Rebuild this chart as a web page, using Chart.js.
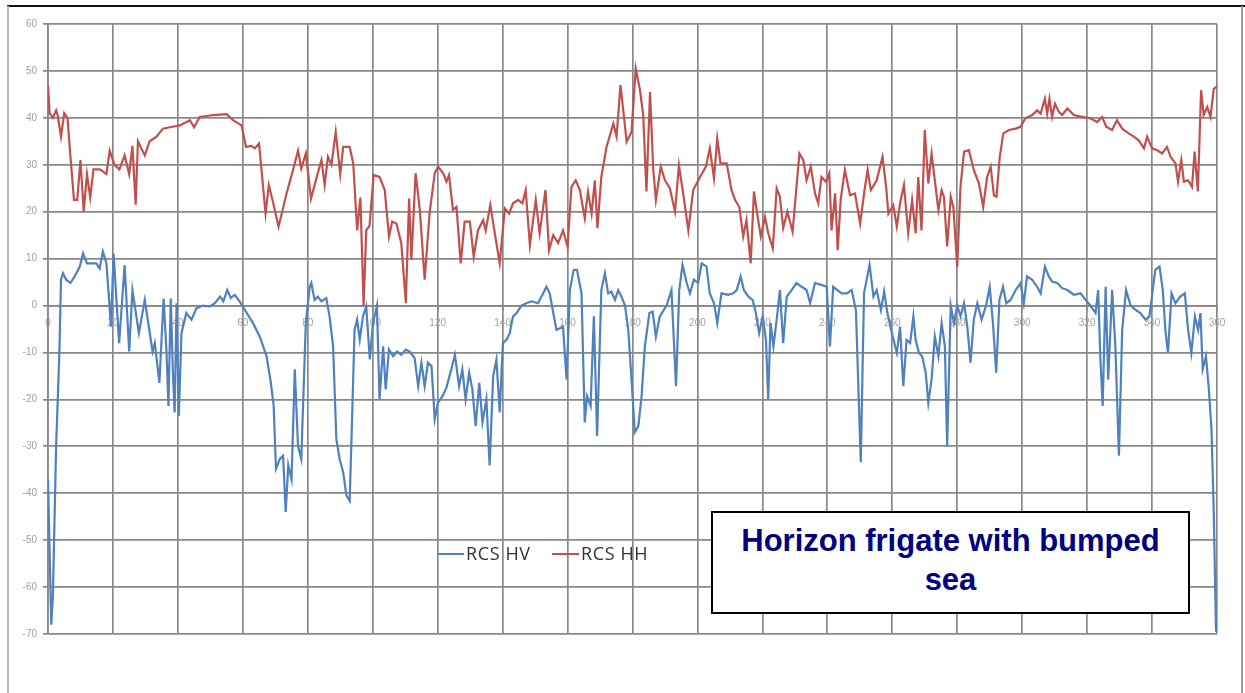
<!DOCTYPE html>
<html>
<head>
<meta charset="utf-8">
<script src="https://cdn.jsdelivr.net/npm/chart.js@4.4.1/dist/chart.umd.min.js"></script>
<style>
  html, body { margin: 0; padding: 0; background: #fff; }
  #wrap { position: relative; width: 1245px; height: 693px; overflow: hidden; background: #fff; }
  #chart { position: absolute; left: 0; top: 0; }
  .frame-top { position: absolute; left: 7px; right: 0; top: 5px; height: 2px; background: #111; }
  .frame-left { position: absolute; left: 7px; top: 6px; bottom: 0; width: 2px; background: #b8b8b8; }
  .frame-right { position: absolute; left: 1241px; top: 6px; bottom: 0; width: 2px; background: #9a9a9a; }
  .legend { position: absolute; top: 543px; height: 20px; font-family: "Open Sans", sans-serif; font-size: 18px; letter-spacing: 0.6px; color: #333; line-height: 20px; white-space: nowrap; }
  .legend .swatch { display: inline-block; width: 27px; height: 2px; vertical-align: middle; margin-right: 2px; position: relative; top: -1px; }
  .note { position: absolute; left: 711px; top: 511px; width: 475px; height: 91px; border: 2px solid #000; background: #fff;
          font-family: "Liberation Sans", Arial, sans-serif; font-weight: bold; font-size: 31px; line-height: 39px; color: #000080; text-align: center; padding-top: 8px; box-sizing: content-box; }
</style>
</head>
<body>
<div id="wrap">
  <canvas id="chart" width="1245" height="693"></canvas>
  <div class="frame-top"></div>
  <div class="frame-left"></div>
  <div class="frame-right"></div>
  <div class="legend" style="left:437px"><span class="swatch" style="background:#4f81bd"></span>RCS HV</div>
  <div class="legend" style="left:552px"><span class="swatch" style="background:#c0504d"></span>RCS HH</div>
  <div class="note">Horizon frigate with bumped<br>sea</div>
</div>
<script>
// Aspect angle (degrees) and radar cross-section (dBsm), HH polarisation
const hhAngle = [0,0.5,1.5,2.5,3,4,5,6,7,8,9,10,11,12,13,14,16,18,19,20.5,22,23.6,25,26,27,27.7,29.8,31.3,33.4,35.4,37.5,40.6,43.7,45,46.7,51,55,57,59.6,61,62.7,63.7,65,67,68,69.3,71,73.5,75.5,77,78,79.4,81,83,84.2,85.2,86.2,87.3,88.6,90,90.9,92.9,94,95.2,96.2,97.2,98,99,100.3,102.1,103.7,105,106,107.3,108.8,110.2,111.2,111.9,113.2,114.5,116,117.5,119.1,120.1,121.7,122.7,123.5,124.7,125.8,127.1,128.3,129.9,131.1,132.4,134,134.8,136.2,137.6,139.1,140.7,142,143.2,144.8,146.1,147.1,148.4,150.2,151.4,153.2,154.3,155.6,157.1,158.6,160,161.2,162.5,163.8,165.3,166.3,167.4,168.4,169.2,170.4,172,174.1,175.1,176.3,178.2,179.7,181,182.3,183.3,184.3,185.4,186.4,187.2,188.7,190,191.5,193.1,194.3,195.6,197.2,198.7,200.8,202.6,203.8,205.1,206.1,207.1,209,210.5,211.6,212.9,214.1,215.1,216.4,217.4,218.4,219.5,220.8,221.8,223.2,224.4,225.4,226.4,227.7,229.3,231.4,232.6,233.6,234.9,236.2,237.2,238.2,239.6,240.6,241.3,242.4,243.2,244.1,245.4,247,248.5,250.1,251.4,252.4,253.4,255.2,257,258.1,258.8,260.3,261.4,262.4,263.6,264.9,266.1,267.2,268,269,270,271.1,272.1,273.1,274.2,275.2,275.9,276.9,278,278.8,280,281,282.1,283.6,285.1,286.7,288,289.2,290.3,291.3,292.1,293.1,294.2,295.9,298,299.5,301,303.1,304.6,305.7,307,307.7,308.4,309.2,310.1,311.3,312.3,313.9,315.9,318.5,321,323.1,324.6,325.9,327.7,329.2,330.8,332.8,334.4,335.9,337.5,338.5,340,341.6,343.1,344.6,345.7,347.2,348,349,349.8,351.1,352.3,353.1,354.1,355.1,355.9,357,358,359,360];
const hhRcs = [47,41,40,41.6,40.5,36,41,40,31,22.5,22.5,31,20,28,23,29,29,28,33,30,29,32,28,34,21.5,35,32,35,36,37.7,38,38.4,39.5,38,40.2,40.6,40.8,39.5,38.4,33.8,34,33.5,34.5,19.6,25.7,22,16.8,24,29,33,29.2,32.4,22.8,28,31,25.7,31.7,30,37,28,33.8,33.8,30.3,16,23,0,16,17,27.8,27.4,24.6,14.7,17.9,17.5,13.3,0.5,22.8,9.7,28.2,20.4,5.5,19.6,28.2,29.6,28.2,26.4,27.8,20.4,21,9,17.9,17.9,10.4,16,18.2,16,21.4,15.4,9,20.7,19.6,21.8,22.5,21.8,24.6,12.9,22.5,15.4,24.6,11.8,15,13.3,16,12.6,25.3,26.7,24.6,18.6,24.3,19.6,26.7,16.5,27.4,33.8,38.8,36,47,34.9,37,50.5,45.9,40.6,24.3,45.5,28.9,22.5,29.6,26.7,25,20,29.9,23.9,16,24.6,27.4,29.6,33.5,27.1,35.6,30.3,30.3,24.6,22.5,21,14.7,18.2,9,24.3,19.6,14.7,18.9,15.4,12.2,25,23.2,16.5,20,15.7,32.4,31,26.7,29.6,23.9,21.8,27.4,26.4,28.2,16,23.9,11.8,22.5,28.9,23.5,23.9,17.5,24.3,28.9,24.6,26.7,31.7,25.3,19.6,21.4,16.8,21.8,25.7,15.4,22.5,15.4,27.4,16,37.4,26,32.4,26.7,20.4,24.6,23.2,12.6,23.2,21,8.3,25.3,32.8,33.1,28.9,26,21,27.4,29.6,23.5,23.2,31.7,36.7,37.4,37.7,38.1,39.9,40.6,41.6,40.9,44.1,40.9,44.1,40.2,43,41.3,40.6,42,40.6,40.2,39.9,39.1,40.2,38.1,37.4,39.5,37.7,36.7,36,35.2,33.5,36,33.5,33.1,32.4,33.8,31.7,30.3,26.4,31,26.4,26.7,25.3,32.8,24.3,45.9,40.6,42.3,40.2,46.2,46.7];

// Aspect angle (degrees) and radar cross-section (dBsm), HV polarisation
const hvAngle = [0,1,1.5,2.5,3.5,4,4.6,5.6,6.9,8.2,9.8,10.8,12,13.4,14.9,15.9,16.9,18,19.4,20.2,21.9,23.6,25,26,28,29.8,32.2,32.9,34.3,35.6,36.5,37.1,37.8,38.5,39,39.6,40.3,41.1,42.6,44.2,45.7,47.8,49.8,51.4,53,54,55.2,56.3,57.5,59,60.6,63.1,65.2,67.3,68.5,69.5,70.2,71.4,72.4,73.2,74,75,76,77,78,79.4,80.6,81.1,82.1,83.1,84.2,85.7,86.7,87.8,88.8,89.8,90.9,91.9,92.9,93.7,94.4,95.2,96,97,98,99.1,100.1,101.3,102.1,103.2,104,105,106.3,107.5,108.8,110.2,111.4,112.9,114,115,116,117,118.1,119.1,120.1,121.5,122.7,124.2,125.3,126.6,127.6,128.6,129.7,130.7,131.7,132.8,133.8,135,136,137.1,138.1,139.1,140.1,141.2,142.2,143.2,144.3,145.8,147.3,148.9,150.9,152.5,153.5,154.5,155.6,156.6,158.6,159.7,160.7,161.9,162.9,164.3,165.3,166,167.1,168.1,169.1,170.4,171.5,172.5,173.5,174.6,175.6,176.6,177.7,178.7,179.7,180.7,181.8,182.8,183.8,185.2,186.2,187.2,188.4,190.5,192,193.4,194.4,195.4,196.7,197.7,198.9,200.2,201.3,202.8,203.8,205.1,206.1,207.4,209.5,211,212.1,213.3,214.3,215.7,217,218,219,220.1,221.1,221.8,222.5,223.4,224.4,225.4,226.4,227.5,229,230.5,232.1,233.6,234.7,236.2,238.2,239.8,240.8,241.8,243.1,244.4,246,247.5,248.8,250.3,251.3,253,254.2,255.2,256.5,257.5,258.5,259.9,261.4,262.4,263.4,264.4,265.5,266.5,267.2,268.2,269.2,270.3,271.1,272.1,273.1,274.2,275.2,276.2,276.9,278,279,280,281,282.1,283.1,284.1,285.1,286.2,287.5,288.9,290,291,292,293,294.1,295.1,296.4,298,299.5,300.5,301.5,303.1,304.6,305.7,307,308.2,309.2,310.8,312.3,313.9,315.9,318,319.5,321,322.6,323.4,324.1,324.8,325.7,326.5,327.7,328.7,329.8,330.8,332,333.4,334.9,336.4,338,339.2,340.2,341,342.3,343.3,344.1,344.9,346,347.2,348.7,350.1,351.1,352.1,353.2,354.2,354.9,355.6,356.6,357.5,358.3,359,359.7];
const hvRcs = [-37,-68,-62,-30,-10,5.5,6.9,5.5,4.8,6.2,8.3,11.1,9,9,9,7.9,11.5,9,-4.5,11.1,-8,8.6,-9.8,3.3,-5.9,1.2,-9.8,-8,-16.5,1.5,-10,-21.4,1.5,-15,-22.8,0.5,-23.5,-5.9,-1.6,-3,-0.6,0,-0.2,0.5,1.9,0.9,3.3,1.6,2.3,0.9,-0.9,-3.7,-6.6,-10.8,-15.8,-21.4,-34.8,-32.7,-32,-44,-34,-37,-13.6,-30,-32.7,-3.7,4,4.8,1.2,1.9,0.9,1.6,-2.3,-8.7,-28.5,-32.7,-35.5,-40.5,-41.6,-22.8,-5.2,-3,-7.3,-2.3,-0.2,-11.5,-3.7,0,-20,-8.7,-17.9,-9.4,-10.8,-9.8,-10.5,-9.4,-9.8,-11.2,-17.2,-12.2,-17.2,-12.2,-12.9,-24.2,-20.7,-19.3,-17.5,-13.6,-10.5,-17.2,-13.6,-20,-14.3,-17.9,-25.7,-16.5,-24.9,-20,-34.1,-15,-11.5,-22.8,-8,-7.3,-5.9,-2.3,-1.6,0,0.5,0.9,0.5,2.6,4,2.6,-1.6,-5.2,-4.5,-15.8,3.3,7.6,7.6,2.6,-24.9,-19.3,-21.4,-2.3,-27.8,3.3,6.9,2.6,3,1.2,3.3,1.9,0,-5.2,-15.8,-27,-25.7,-19.3,-8.7,-1.6,-1.3,-6.6,-2.3,0,3.3,-17.2,3.3,8.7,4.8,2.6,5.5,4.8,9,8.3,2.6,0.5,-3.7,2.6,2.3,2.6,3.3,6.2,3.3,1.9,1.2,-1.6,-5.9,-2.3,-7.3,-20,-3.7,-8.7,-3,3.3,-8,1.9,3.3,4.8,4,3.3,0.5,4.8,4.4,4,-8.7,4,3.3,2.6,2.6,3.3,-1,-33.4,2.6,8.7,1.9,3.3,-1,3,-1.6,-5.9,-10.1,-4.5,-17.2,-7.3,-8,-2.3,-7.3,-10.1,-10.8,-14.3,-20.7,-15.8,-6.6,-10.8,-3.7,-8.7,-30,0,-3.7,0,-2.3,0.5,-4.5,-12.2,-3,0.5,-3,0,4,-3.7,-14.3,1.2,4,0.5,1.2,3.3,4.8,0.5,6.2,5.5,4,2.6,8.3,6.2,5.1,4.8,3.7,3.3,2.3,2.6,1.2,0,-1.6,3.3,-11.5,-21.4,4,-15.8,3.3,-8.7,-32,-5.2,3.3,0,-0.9,-1.6,-3,-2.3,3.3,7.6,8.3,3.3,-5.2,-10.1,2.6,0.5,1.9,2.6,-5.2,-10.1,-2.3,-5.2,-1.6,-13.6,-10.8,-17.9,-26.4,-44,-69.5];

const xMin = 0, xMax = 360, xStep = 20;
const yMin = -70, yMax = 60, yStep = 10;

const toPoints = (xs, ys) => xs.map((x, i) => ({ x: x, y: ys[i] }));

const gridColor = '#888888';
const tickFont = { family: 'Liberation Sans, Arial, sans-serif', size: 10 };

new Chart(document.getElementById('chart'), {
  type: 'line',
  data: {
    datasets: [
      { label: 'RCS HV', data: toPoints(hvAngle, hvRcs), borderColor: '#4f81bd', borderWidth: 2.2, pointRadius: 0, tension: 0, fill: false },
      { label: 'RCS HH', data: toPoints(hhAngle, hhRcs), borderColor: '#c0504d', borderWidth: 2.2, pointRadius: 0, tension: 0, fill: false }
    ]
  },
  options: {
    responsive: false,
    animation: false,
    events: [],
    layout: { padding: { left: 0, top: 24, right: 28, bottom: 59 } },
    plugins: { legend: { display: false }, tooltip: { enabled: false } },
    scales: {
      x: {
        type: 'linear',
        position: { y: 0 },
        min: xMin, max: xMax,
        ticks: { stepSize: xStep, color: '#a0a0a0', font: tickFont, padding: 8, maxRotation: 0 },
        grid: { color: gridColor, lineWidth: 1.7, tickLength: 4, tickColor: gridColor },
        border: { color: gridColor, width: 1.7 }
      },
      y: {
        min: yMin, max: yMax,
        ticks: { stepSize: yStep, color: '#a0a0a0', font: tickFont, padding: 6 },
        grid: { color: gridColor, lineWidth: 1.7, tickLength: 5, tickColor: gridColor },
        border: { color: gridColor, width: 1.7 },
        afterFit: (scale) => { scale.width = 48; }
      }
    }
  }
});
</script>
</body>
</html>
